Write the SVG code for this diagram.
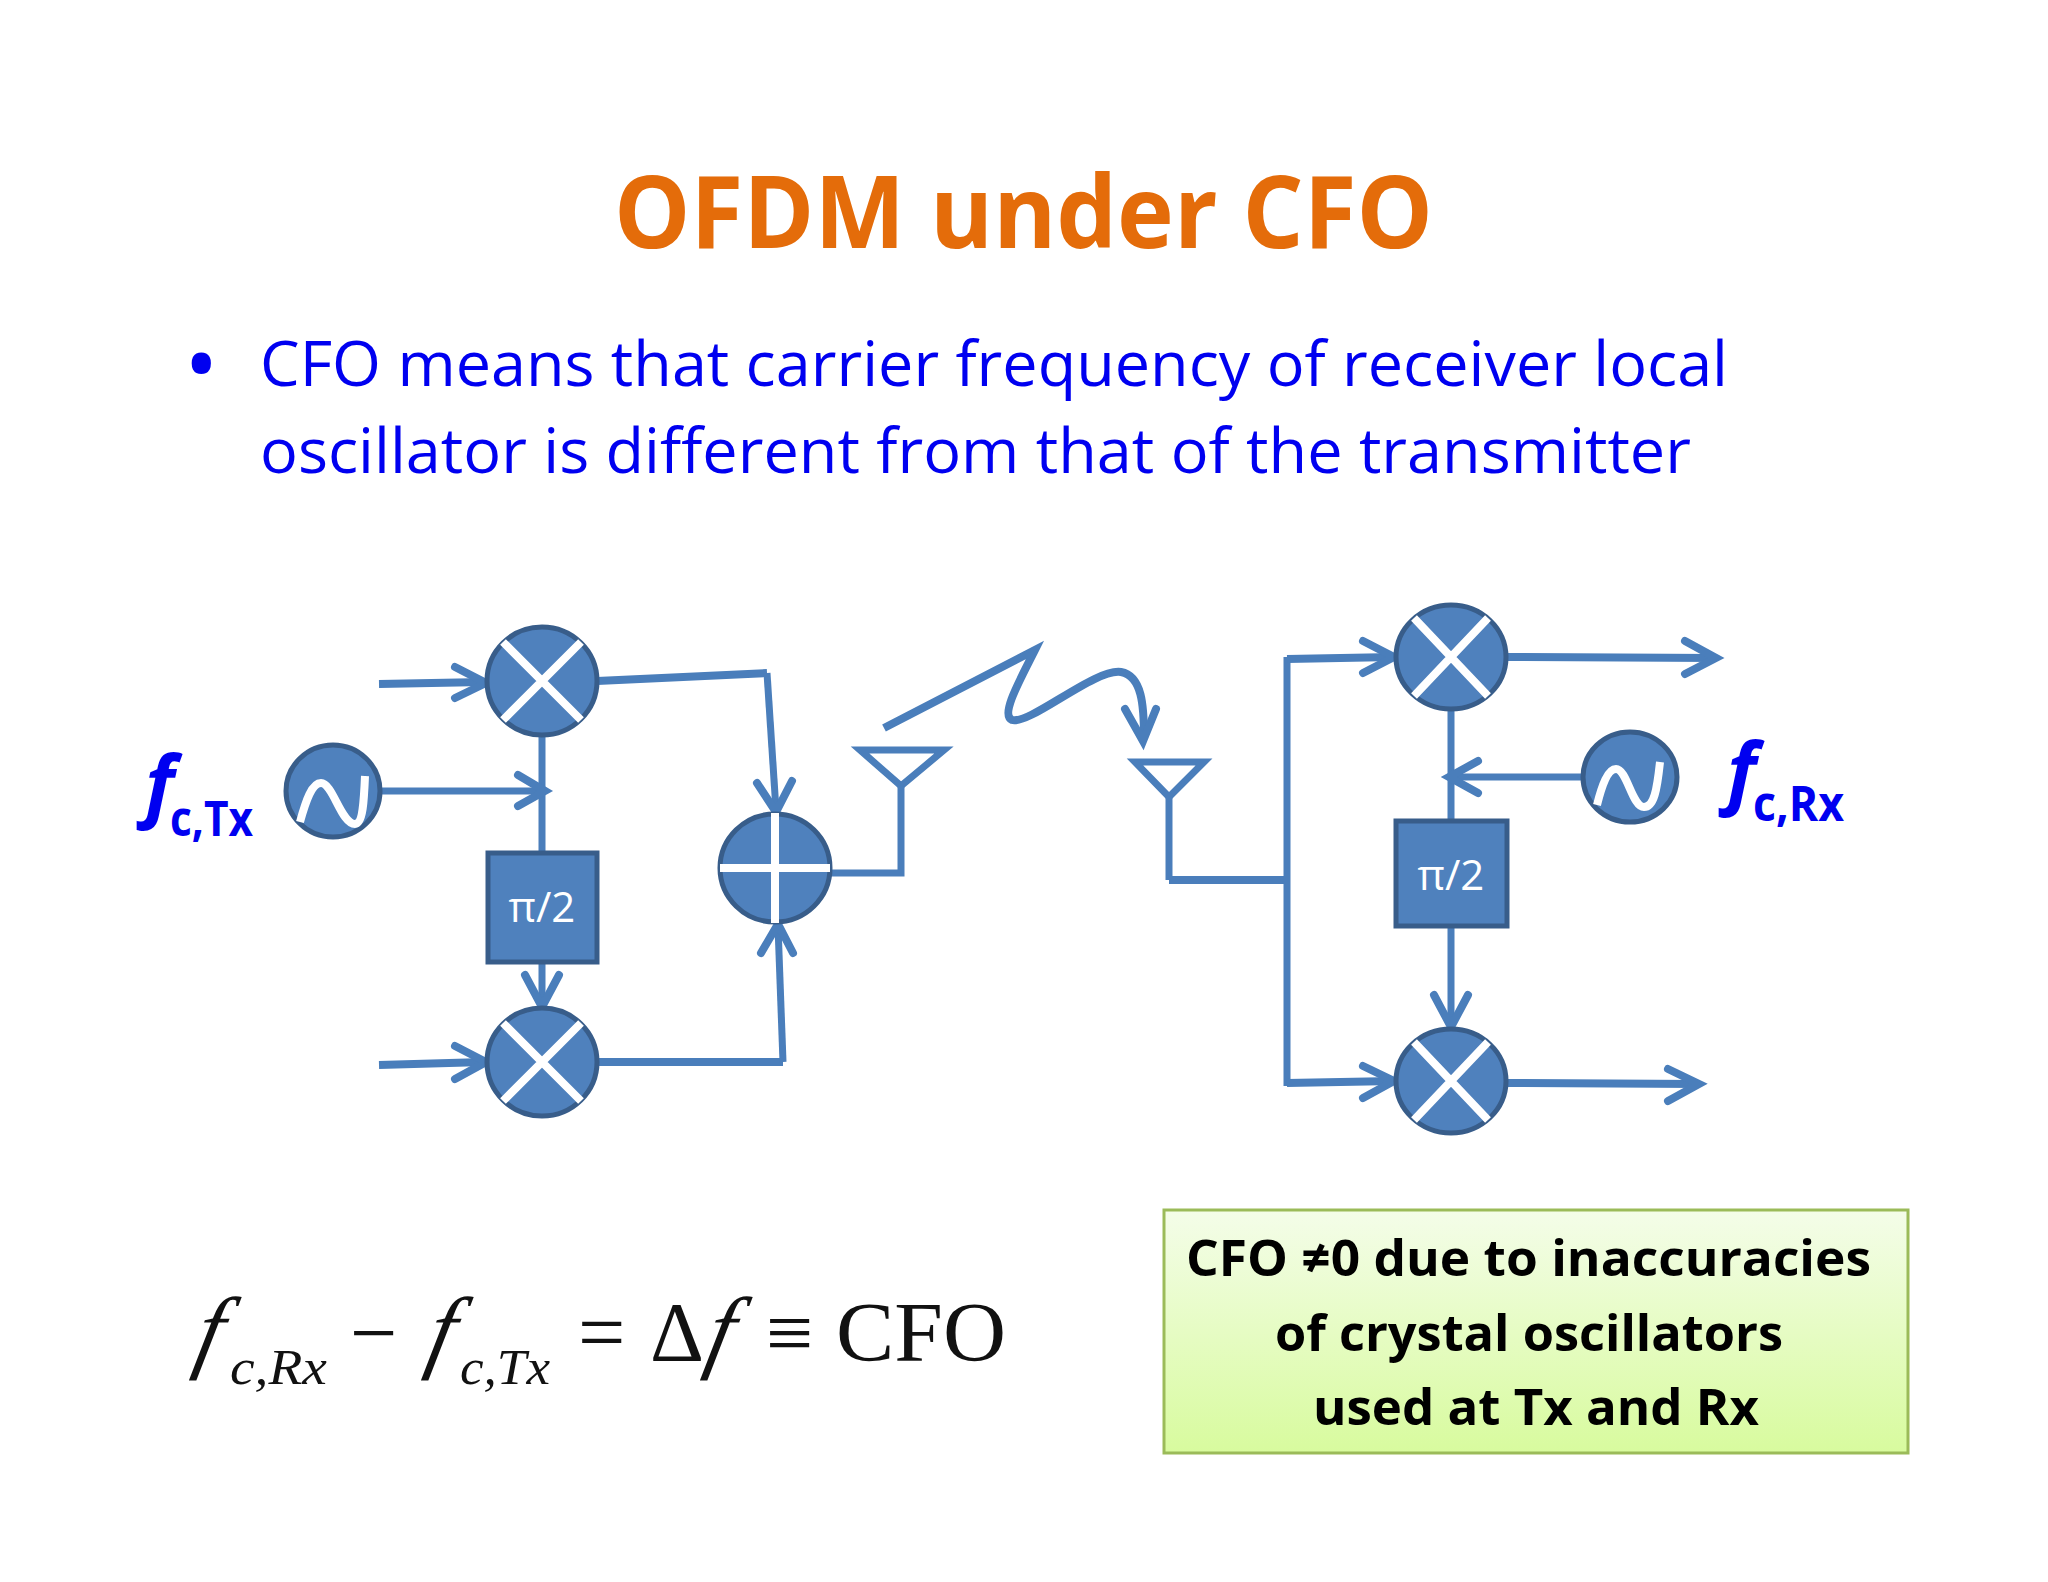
<svg xmlns="http://www.w3.org/2000/svg" width="2048" height="1582" viewBox="0 0 2048 1582">
<style>
.sans{font-family:"Open Sans","Noto Sans","Liberation Sans",sans-serif}
.blue{fill:#0000f0}
.b{font-weight:700}
.body{font-size:62px;font-weight:500}
.box{font-size:51px;fill:#000;font-weight:700}
.serif{font-family:"Liberation Serif","DejaVu Serif",serif;fill:#111}
.i{font-style:italic}
.node{fill:#4f81bd;stroke:#385d8a;stroke-width:5}
.wh{fill:none;stroke:#fff;stroke-width:8}
.pi{font-size:42px;fill:#fff;text-anchor:middle}
.ln{fill:none;stroke:#4a7ebb;stroke-width:7}
.th{stroke-width:8}
.head{fill:none;stroke:#4a7ebb;stroke-width:8;stroke-linecap:round;stroke-linejoin:miter}
</style>
<defs>
<linearGradient id="g" x1="0" y1="0" x2="0" y2="1"><stop offset="0" stop-color="#f4fde9"/><stop offset="1" stop-color="#d8fb9e"/></linearGradient>
</defs>
<rect width="2048" height="1582" fill="#fff"/>
<g id="title"><text class="sans b" x="614" y="248" font-size="100" fill="#e46c0a" textLength="819" lengthAdjust="spacingAndGlyphs">OFDM under CFO</text></g>
<g id="bullets">
<text class="sans blue body" x="184" y="397" style="font-size:92px">•</text>
<text class="sans blue body" x="260" y="386" textLength="1468" lengthAdjust="spacingAndGlyphs">CFO means that carrier frequency of receiver local</text>
<text class="sans blue body" x="260" y="473" textLength="1431" lengthAdjust="spacingAndGlyphs">oscillator is different from that of the transmitter</text>
</g>
<g id="connectors">
<path class="ln th" d="M379 684L484 682M597 681L767 673"/>
<path class="ln" d="M767 673L776 810"/>
<path class="ln th" d="M379 1065L484 1062M597 1062L783 1062"/>
<path class="ln" d="M783 1062L778 926"/>
<path class="ln" d="M381 791L545 791M542 737V851M542 963V1005"/>
<path class="ln" d="M830 873H901V786"/>
<path class="ln th" d="M884 728L1035 650C1020 680 1000 715 1012 720C1030 725 1095 668 1121 672C1142 676 1144 705 1144 738"/>
<path class="ln" d="M1169 797V880"/>
<path class="ln th" d="M1169 880H1287"/>
<path class="ln" d="M1287 657V1086"/>
<path class="ln th" d="M1287 659L1394 657M1287 1083L1394 1081M1507 657L1716 658M1507 1083L1699 1084"/>
<path class="ln" d="M1583 777H1449M1451 710V820M1451 927V1025"/>
<path class="head" d="M455 667L486 683L455 698M455 1046L486 1062L455 1079M518 775L545 791L518 806M757 783L776 812L792 781M525 975L542 1007L559 975M761 953L778 924L793 953M1125 709L1143 741L1156 709M1363 641L1394 657L1363 673M1363 1066L1394 1081L1363 1098M1685 641L1716 658L1685 674M1668 1069L1699 1084L1668 1101M1478 761L1449 777L1478 793M1434 995L1451 1027L1468 995"/>
</g>
<g id="mixer-tx-i"><ellipse class="node" cx="542" cy="681" rx="55" ry="54"/><path class="wh" d="M503 642L581 720M581 642L503 720"/></g>
<g id="mixer-tx-q"><ellipse class="node" cx="542" cy="1062" rx="55" ry="54"/><path class="wh" d="M503 1023L581 1101M581 1023L503 1101"/></g>
<g id="adder"><ellipse class="node" cx="775" cy="868" rx="55" ry="54"/><path class="wh" d="M720 868H830M775 813V923"/></g>
<g id="osc-tx"><ellipse class="node" cx="333" cy="791" rx="47" ry="46"/><path class="wh" d="M300 822C306 800 312 783 321 783C333 783 341 824 355 824C363 824 364 800 365 776"/></g>
<g id="phase-tx"><rect class="node" x="488" y="853" width="109" height="109"/><text class="sans pi" x="542" y="922">π/2</text></g>
<g id="antenna-tx"><path class="ln" d="M860 750H944L901 786Z"/></g>
<g id="antenna-rx"><path class="ln" d="M1135 762H1204L1169 797Z"/></g>
<g id="mixer-rx-i"><ellipse class="node" cx="1451" cy="657" rx="55" ry="52"/><path class="wh" d="M1414 618L1488 696M1488 618L1414 696"/></g>
<g id="mixer-rx-q"><ellipse class="node" cx="1451" cy="1081" rx="55" ry="52"/><path class="wh" d="M1414 1042L1488 1120M1488 1042L1414 1120"/></g>
<g id="osc-rx"><ellipse class="node" cx="1630" cy="777" rx="47" ry="45"/><path class="wh" d="M1597 805C1602 785 1608 769 1616 769C1627 769 1632 807 1644 807C1654 807 1657 790 1660 762"/></g>
<g id="phase-rx"><rect class="node" x="1396" y="821" width="111" height="105"/><text class="sans pi" x="1451" y="890">π/2</text></g>
<g id="label-tx"><text class="sans b i blue" x="145" y="812" font-size="78">f</text><text class="sans b blue" x="170" y="836" font-size="48" textLength="83" lengthAdjust="spacingAndGlyphs">c,Tx</text></g>
<g id="label-rx"><text class="sans b i blue" x="1727" y="799" font-size="78">f</text><text class="sans b blue" x="1753" y="821" font-size="48" textLength="91" lengthAdjust="spacingAndGlyphs">c,Rx</text></g>
<g id="formula">
<text class="serif i" transform="translate(192 1361) skewX(-12)" font-size="92">f</text>
<text class="serif i" x="230" y="1384" font-size="50" textLength="97" lengthAdjust="spacingAndGlyphs">c,Rx</text>
<text class="serif" x="350" y="1361" font-size="84">−</text>
<text class="serif i" transform="translate(424 1361) skewX(-12)" font-size="92">f</text>
<text class="serif i" x="460" y="1384" font-size="50" textLength="90" lengthAdjust="spacingAndGlyphs">c,Tx</text>
<text class="serif" x="578" y="1361" font-size="84">=</text>
<text class="serif" x="650" y="1361" font-size="84">Δ</text>
<text class="serif i" transform="translate(703 1361) skewX(-12)" font-size="92">f</text>
<text class="serif" x="766" y="1361" font-size="84">≡</text>
<text class="serif" x="836" y="1361" font-size="84" textLength="170" lengthAdjust="spacingAndGlyphs">CFO</text>
</g>
<g id="note">
<rect x="1164" y="1210" width="744" height="243" fill="url(#g)" stroke="#9bbb59" stroke-width="3"/>
<text class="sans box" x="1186" y="1276" textLength="685" lengthAdjust="spacingAndGlyphs">CFO ≠0 due to inaccuracies</text>
<text class="sans box" x="1275" y="1351" textLength="508" lengthAdjust="spacingAndGlyphs">of crystal oscillators</text>
<text class="sans box" x="1313" y="1425" textLength="446" lengthAdjust="spacingAndGlyphs">used at Tx and Rx</text>
</g>
</svg>
